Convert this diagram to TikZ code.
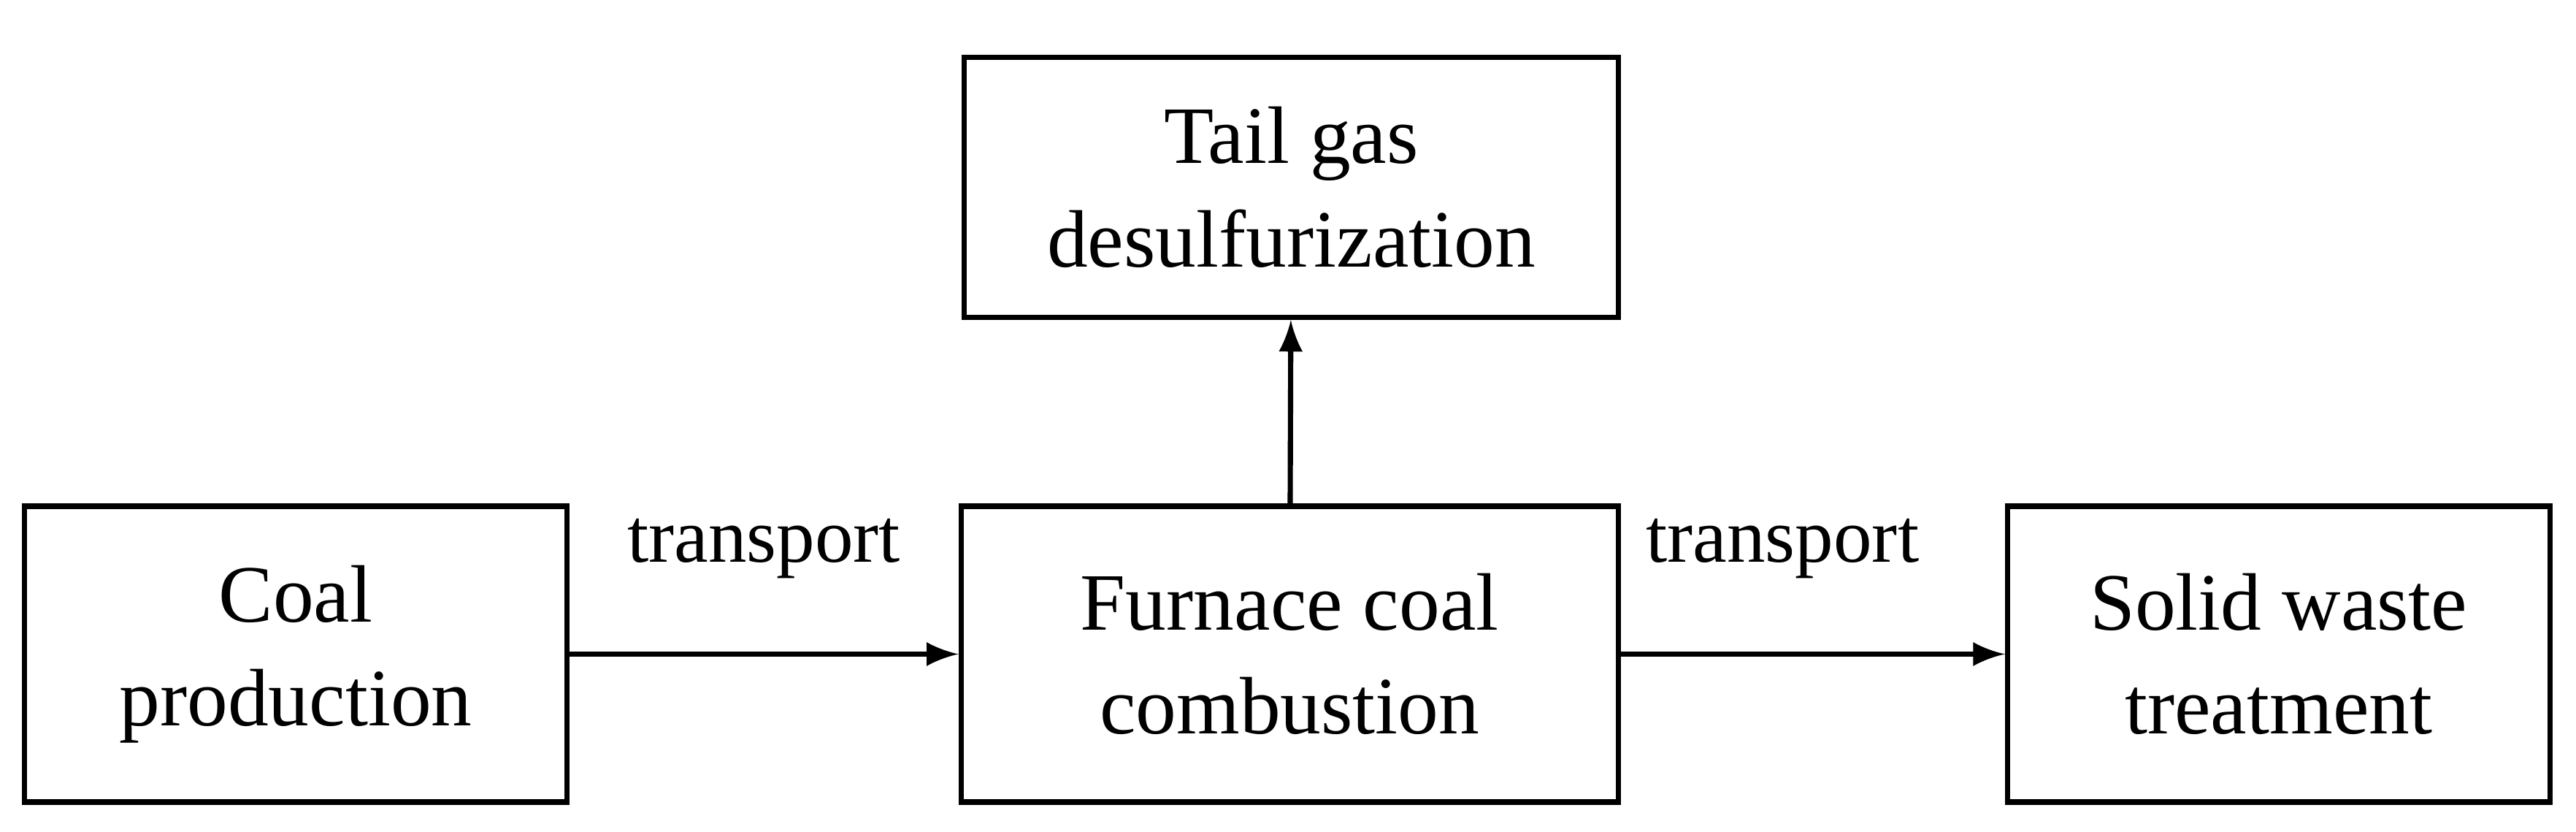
\documentclass[tikz,border=0pt]{standalone}
\usepackage{fontspec}
\setmainfont{Liberation Serif}
\begin{document}
\begin{tikzpicture}[box/.style={draw, line width=0.9pt, align=center, font=\fontsize{14.1}{18}\selectfont, inner sep=0pt}, >=latex]
\useasboundingbox (0,0) rectangle (15.68,5.06);
\node (coal) [box, minimum width=3.3cm, minimum height=1.8cm] at (1.80,1.08) {Coal\\production};
\node (furnace) [box, minimum width=4.0cm, minimum height=1.8cm] at (7.85,1.08) {Furnace coal\\combustion};
\node (waste) [box, minimum width=3.3cm, minimum height=1.8cm] at (13.87,1.08) {Solid waste\\treatment};
\node (tail) [box, minimum width=3.98cm, minimum height=1.58cm] at (7.86,3.92) {Tail gas\\desulfurization};
\node (t1) [font=\fontsize{13.3}{17}\selectfont] at (4.65,1.72) {transport};
\node (t2) [font=\fontsize{13.3}{17}\selectfont] at (10.85,1.72) {transport};

\path [->, line width=0.9pt] (coal) edge node {} (furnace);
\path [->, line width=0.9pt] (furnace) edge node {} (waste);
\path [->, line width=0.9pt] (furnace) edge node {} (tail);
\end{tikzpicture}
\end{document}
